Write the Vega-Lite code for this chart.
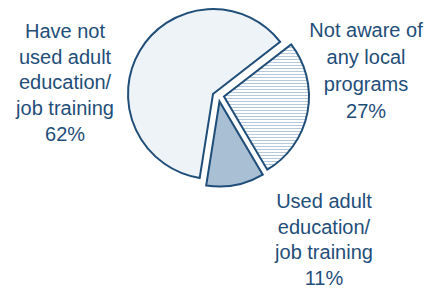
{
  "$schema": "https://vega.github.io/schema/vega-lite/v6.json",
  "autosize": "none",
  "width": 426,
  "height": 188,
  "padding": {"left": 0, "top": 0, "right": 4, "bottom": 102},
  "background": "#ffffff",
  "config": {"view": {"stroke": null}},
  "data": {
    "values": [
      {"cat": "Have not used", "value": 62, "label": "Have not\nused adult\neducation/\njob training\n62%"},
      {"cat": "Not aware", "value": 27, "label": "Not aware of\nany local\nprograms\n27%"},
      {"cat": "Used", "value": 11, "label": "Used adult\neducation/\njob training\n11%"}
    ]
  },
  "transform": [
    {"stack": "value", "groupby": [], "sort": [{"field": "cat", "order": "ascending"}], "as": ["v0", "v1"]}
  ],
  "layer": [
    {
      "transform": [{"filter": "datum.cat === 'Have not used'"}],
      "mark": {"type": "arc", "radius": 85, "fill": "#eef3f8", "stroke": "#1f4e79", "strokeWidth": 2},
      "encoding": {
        "theta": {"field": "v0", "type": "quantitative", "scale": {"domain": [0, 100], "range": [3.2987, 9.5819]}},
        "theta2": {"field": "v1"}
      }
    },
    {
      "transform": [{"filter": "datum.cat === 'Not aware'"}],
      "mark": {"type": "arc", "radius": 85, "xOffset": 11, "yOffset": 2.5, "stroke": "#1f4e79", "strokeWidth": 2,
        "fill": {"gradient": "linear", "x1": 0, "y1": 0, "x2": 0, "y2": 1, "stops": [
          {"offset": 0, "color": "#ffffff"}, {"offset": 0, "color": "#b4c9dd"}, {"offset": 0.008, "color": "#b4c9dd"}, {"offset": 0.008, "color": "#ffffff"},
          {"offset": 0.0238, "color": "#ffffff"}, {"offset": 0.0238, "color": "#b4c9dd"}, {"offset": 0.0318, "color": "#b4c9dd"}, {"offset": 0.0318, "color": "#ffffff"},
          {"offset": 0.0476, "color": "#ffffff"}, {"offset": 0.0476, "color": "#b4c9dd"}, {"offset": 0.0556, "color": "#b4c9dd"}, {"offset": 0.0556, "color": "#ffffff"},
          {"offset": 0.0714, "color": "#ffffff"}, {"offset": 0.0714, "color": "#b4c9dd"}, {"offset": 0.0794, "color": "#b4c9dd"}, {"offset": 0.0794, "color": "#ffffff"},
          {"offset": 0.0952, "color": "#ffffff"}, {"offset": 0.0952, "color": "#b4c9dd"}, {"offset": 0.1032, "color": "#b4c9dd"}, {"offset": 0.1032, "color": "#ffffff"},
          {"offset": 0.119, "color": "#ffffff"}, {"offset": 0.119, "color": "#b4c9dd"}, {"offset": 0.127, "color": "#b4c9dd"}, {"offset": 0.127, "color": "#ffffff"},
          {"offset": 0.1429, "color": "#ffffff"}, {"offset": 0.1429, "color": "#b4c9dd"}, {"offset": 0.1509, "color": "#b4c9dd"}, {"offset": 0.1509, "color": "#ffffff"},
          {"offset": 0.1667, "color": "#ffffff"}, {"offset": 0.1667, "color": "#b4c9dd"}, {"offset": 0.1747, "color": "#b4c9dd"}, {"offset": 0.1747, "color": "#ffffff"},
          {"offset": 0.1905, "color": "#ffffff"}, {"offset": 0.1905, "color": "#b4c9dd"}, {"offset": 0.1985, "color": "#b4c9dd"}, {"offset": 0.1985, "color": "#ffffff"},
          {"offset": 0.2143, "color": "#ffffff"}, {"offset": 0.2143, "color": "#b4c9dd"}, {"offset": 0.2223, "color": "#b4c9dd"}, {"offset": 0.2223, "color": "#ffffff"},
          {"offset": 0.2381, "color": "#ffffff"}, {"offset": 0.2381, "color": "#b4c9dd"}, {"offset": 0.2461, "color": "#b4c9dd"}, {"offset": 0.2461, "color": "#ffffff"},
          {"offset": 0.2619, "color": "#ffffff"}, {"offset": 0.2619, "color": "#b4c9dd"}, {"offset": 0.2699, "color": "#b4c9dd"}, {"offset": 0.2699, "color": "#ffffff"},
          {"offset": 0.2857, "color": "#ffffff"}, {"offset": 0.2857, "color": "#b4c9dd"}, {"offset": 0.2937, "color": "#b4c9dd"}, {"offset": 0.2937, "color": "#ffffff"},
          {"offset": 0.3095, "color": "#ffffff"}, {"offset": 0.3095, "color": "#b4c9dd"}, {"offset": 0.3175, "color": "#b4c9dd"}, {"offset": 0.3175, "color": "#ffffff"},
          {"offset": 0.3333, "color": "#ffffff"}, {"offset": 0.3333, "color": "#b4c9dd"}, {"offset": 0.3413, "color": "#b4c9dd"}, {"offset": 0.3413, "color": "#ffffff"},
          {"offset": 0.3571, "color": "#ffffff"}, {"offset": 0.3571, "color": "#b4c9dd"}, {"offset": 0.3651, "color": "#b4c9dd"}, {"offset": 0.3651, "color": "#ffffff"},
          {"offset": 0.381, "color": "#ffffff"}, {"offset": 0.381, "color": "#b4c9dd"}, {"offset": 0.389, "color": "#b4c9dd"}, {"offset": 0.389, "color": "#ffffff"},
          {"offset": 0.4048, "color": "#ffffff"}, {"offset": 0.4048, "color": "#b4c9dd"}, {"offset": 0.4128, "color": "#b4c9dd"}, {"offset": 0.4128, "color": "#ffffff"},
          {"offset": 0.4286, "color": "#ffffff"}, {"offset": 0.4286, "color": "#b4c9dd"}, {"offset": 0.4366, "color": "#b4c9dd"}, {"offset": 0.4366, "color": "#ffffff"},
          {"offset": 0.4524, "color": "#ffffff"}, {"offset": 0.4524, "color": "#b4c9dd"}, {"offset": 0.4604, "color": "#b4c9dd"}, {"offset": 0.4604, "color": "#ffffff"},
          {"offset": 0.4762, "color": "#ffffff"}, {"offset": 0.4762, "color": "#b4c9dd"}, {"offset": 0.4842, "color": "#b4c9dd"}, {"offset": 0.4842, "color": "#ffffff"},
          {"offset": 0.5, "color": "#ffffff"}, {"offset": 0.5, "color": "#b4c9dd"}, {"offset": 0.508, "color": "#b4c9dd"}, {"offset": 0.508, "color": "#ffffff"},
          {"offset": 0.5238, "color": "#ffffff"}, {"offset": 0.5238, "color": "#b4c9dd"}, {"offset": 0.5318, "color": "#b4c9dd"}, {"offset": 0.5318, "color": "#ffffff"},
          {"offset": 0.5476, "color": "#ffffff"}, {"offset": 0.5476, "color": "#b4c9dd"}, {"offset": 0.5556, "color": "#b4c9dd"}, {"offset": 0.5556, "color": "#ffffff"},
          {"offset": 0.5714, "color": "#ffffff"}, {"offset": 0.5714, "color": "#b4c9dd"}, {"offset": 0.5794, "color": "#b4c9dd"}, {"offset": 0.5794, "color": "#ffffff"},
          {"offset": 0.5952, "color": "#ffffff"}, {"offset": 0.5952, "color": "#b4c9dd"}, {"offset": 0.6032, "color": "#b4c9dd"}, {"offset": 0.6032, "color": "#ffffff"},
          {"offset": 0.619, "color": "#ffffff"}, {"offset": 0.619, "color": "#b4c9dd"}, {"offset": 0.627, "color": "#b4c9dd"}, {"offset": 0.627, "color": "#ffffff"},
          {"offset": 0.6429, "color": "#ffffff"}, {"offset": 0.6429, "color": "#b4c9dd"}, {"offset": 0.6509, "color": "#b4c9dd"}, {"offset": 0.6509, "color": "#ffffff"},
          {"offset": 0.6667, "color": "#ffffff"}, {"offset": 0.6667, "color": "#b4c9dd"}, {"offset": 0.6747, "color": "#b4c9dd"}, {"offset": 0.6747, "color": "#ffffff"},
          {"offset": 0.6905, "color": "#ffffff"}, {"offset": 0.6905, "color": "#b4c9dd"}, {"offset": 0.6985, "color": "#b4c9dd"}, {"offset": 0.6985, "color": "#ffffff"},
          {"offset": 0.7143, "color": "#ffffff"}, {"offset": 0.7143, "color": "#b4c9dd"}, {"offset": 0.7223, "color": "#b4c9dd"}, {"offset": 0.7223, "color": "#ffffff"},
          {"offset": 0.7381, "color": "#ffffff"}, {"offset": 0.7381, "color": "#b4c9dd"}, {"offset": 0.7461, "color": "#b4c9dd"}, {"offset": 0.7461, "color": "#ffffff"},
          {"offset": 0.7619, "color": "#ffffff"}, {"offset": 0.7619, "color": "#b4c9dd"}, {"offset": 0.7699, "color": "#b4c9dd"}, {"offset": 0.7699, "color": "#ffffff"},
          {"offset": 0.7857, "color": "#ffffff"}, {"offset": 0.7857, "color": "#b4c9dd"}, {"offset": 0.7937, "color": "#b4c9dd"}, {"offset": 0.7937, "color": "#ffffff"},
          {"offset": 0.8095, "color": "#ffffff"}, {"offset": 0.8095, "color": "#b4c9dd"}, {"offset": 0.8175, "color": "#b4c9dd"}, {"offset": 0.8175, "color": "#ffffff"},
          {"offset": 0.8333, "color": "#ffffff"}, {"offset": 0.8333, "color": "#b4c9dd"}, {"offset": 0.8413, "color": "#b4c9dd"}, {"offset": 0.8413, "color": "#ffffff"},
          {"offset": 0.8571, "color": "#ffffff"}, {"offset": 0.8571, "color": "#b4c9dd"}, {"offset": 0.8651, "color": "#b4c9dd"}, {"offset": 0.8651, "color": "#ffffff"},
          {"offset": 0.881, "color": "#ffffff"}, {"offset": 0.881, "color": "#b4c9dd"}, {"offset": 0.889, "color": "#b4c9dd"}, {"offset": 0.889, "color": "#ffffff"},
          {"offset": 0.9048, "color": "#ffffff"}, {"offset": 0.9048, "color": "#b4c9dd"}, {"offset": 0.9128, "color": "#b4c9dd"}, {"offset": 0.9128, "color": "#ffffff"},
          {"offset": 0.9286, "color": "#ffffff"}, {"offset": 0.9286, "color": "#b4c9dd"}, {"offset": 0.9366, "color": "#b4c9dd"}, {"offset": 0.9366, "color": "#ffffff"},
          {"offset": 0.9524, "color": "#ffffff"}, {"offset": 0.9524, "color": "#b4c9dd"}, {"offset": 0.9604, "color": "#b4c9dd"}, {"offset": 0.9604, "color": "#ffffff"},
          {"offset": 0.9762, "color": "#ffffff"}, {"offset": 0.9762, "color": "#b4c9dd"}, {"offset": 0.9842, "color": "#b4c9dd"}, {"offset": 0.9842, "color": "#ffffff"},
          {"offset": 1, "color": "#ffffff"}
        ]}},
      "encoding": {
        "theta": {"field": "v0", "type": "quantitative", "scale": {"domain": [0, 100], "range": [3.2987, 9.5819]}},
        "theta2": {"field": "v1"}
      }
    },
    {
      "transform": [{"filter": "datum.cat === 'Used'"}],
      "mark": {"type": "arc", "radius": 85, "xOffset": 6.5, "yOffset": 7.5, "fill": "#a9bfd4", "stroke": "#1f4e79", "strokeWidth": 2},
      "encoding": {
        "theta": {"field": "v0", "type": "quantitative", "scale": {"domain": [0, 100], "range": [3.2987, 9.5819]}},
        "theta2": {"field": "v1"}
      }
    },
    {
      "transform": [{"filter": "datum.cat === 'Have not used'"}],
      "mark": {"type": "text", "font": "Liberation Sans", "fontSize": 20, "lineHeight": 25.7, "lineBreak": "\n", "color": "#1f4e79", "align": "center", "baseline": "middle", "dx": -129.2, "dy": -180.5},
      "encoding": {
        "theta": {"field": "v0", "type": "quantitative", "scale": {"domain": [0, 100], "range": [3.2987, 9.5819]}},
        "radius": {"value": 120},
        "text": {"field": "label"}
      }
    },
    {
      "transform": [{"filter": "datum.cat === 'Not aware'"}],
      "mark": {"type": "text", "font": "Liberation Sans", "fontSize": 20, "lineHeight": 27, "lineBreak": "\n", "color": "#1f4e79", "align": "center", "baseline": "middle", "dx": 58.2, "dy": 10.5},
      "encoding": {
        "theta": {"field": "v0", "type": "quantitative", "scale": {"domain": [0, 100], "range": [3.2987, 9.5819]}},
        "radius": {"value": 120},
        "text": {"field": "label"}
      }
    },
    {
      "transform": [{"filter": "datum.cat === 'Used'"}],
      "mark": {"type": "text", "font": "Liberation Sans", "fontSize": 20, "lineHeight": 25.7, "lineBreak": "\n", "color": "#1f4e79", "align": "center", "baseline": "middle", "dx": 49.9, "dy": 4.7},
      "encoding": {
        "theta": {"field": "v0", "type": "quantitative", "scale": {"domain": [0, 100], "range": [3.2987, 9.5819]}},
        "radius": {"value": 120},
        "text": {"field": "label"}
      }
    }
  ]
}
